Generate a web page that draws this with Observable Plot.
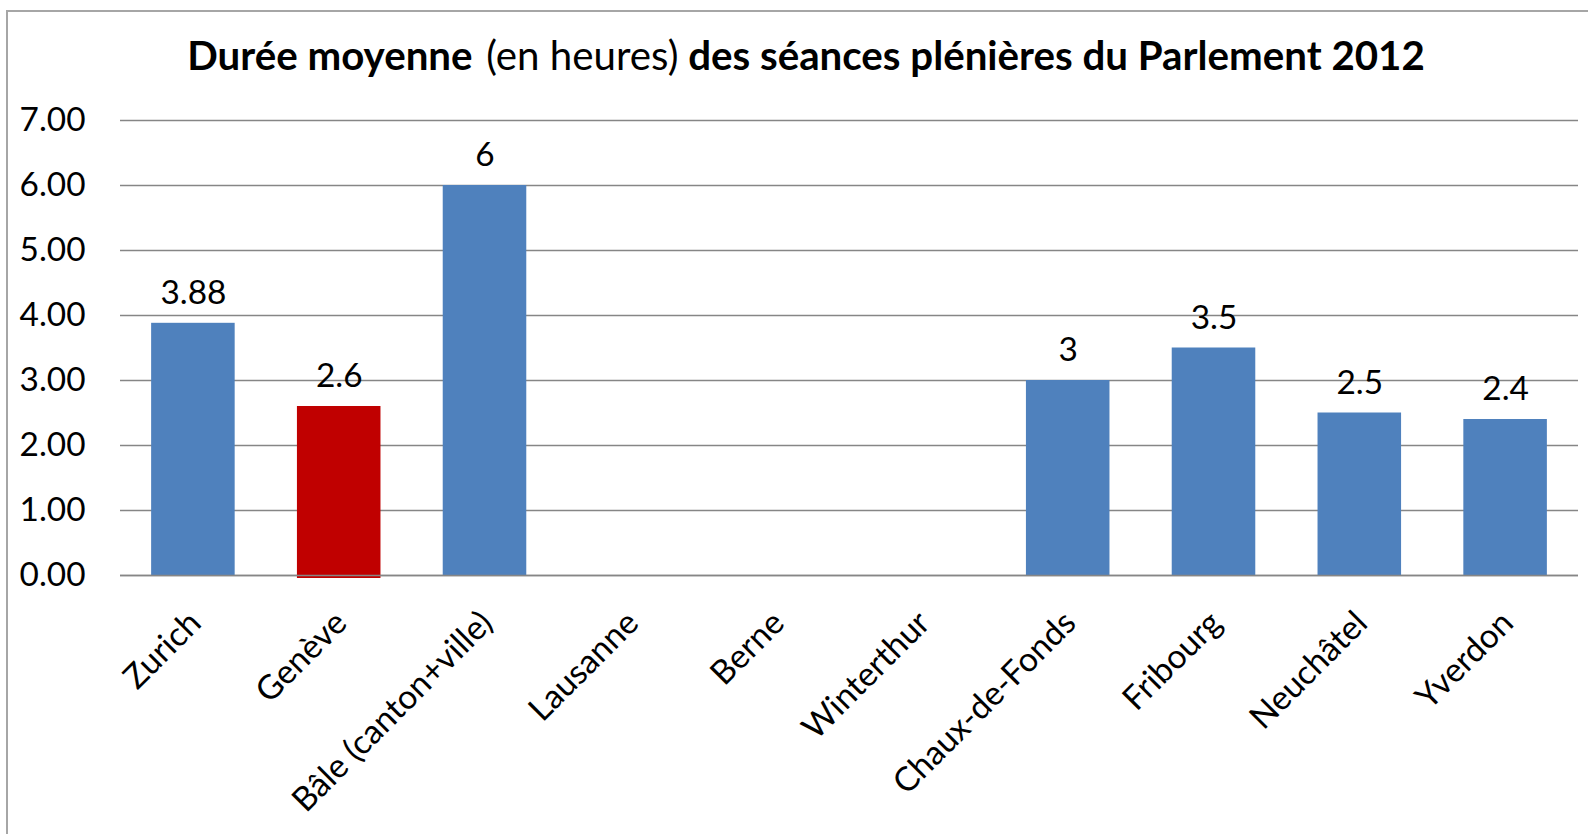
<!DOCTYPE html>
<html><head><meta charset="utf-8">
<script src="https://cdn.jsdelivr.net/npm/d3@7"></script>
<script src="https://cdn.jsdelivr.net/npm/@observablehq/plot@0.6"></script>
<style>
body{margin:0;background:#fff;}
#wrap{position:relative;width:1588px;height:834px;overflow:hidden;background:#fff;}
#frame{position:absolute;left:6px;top:10px;width:1700px;height:900px;border-left:2px solid #a6a6a6;border-top:2px solid #a6a6a6;z-index:2;pointer-events:none;}
#title{position:absolute;left:0;width:1612px;text-align:center;white-space:nowrap;line-height:1;color:#000;font-family:Lato;z-index:1;}
#title b{font-weight:700;}
#title span{font-weight:400;margin-left:4px;}
#chart{position:absolute;left:0;top:100px;}
</style></head>
<body><div id="wrap"><div id="frame"></div><div id="title"></div><div id="chart"></div></div>
<script>
const cities = ["Zurich","Genève","Bâle (canton+ville)","Lausanne","Berne","Winterthur","Chaux-de-Fonds","Fribourg","Neuchâtel","Yverdon"];
const hours = [3.88, 2.6, 6, null, null, null, 3, 3.5, 2.5, 2.4];
const valueLabels = ["3.88","2.6","6","","","","3","3.5","2.5","2.4"];
const yTicks = [0,1,2,3,4,5,6,7];
const highlight = "Genève";
const titleBold1 = "Durée moyenne";
const titleRegular = "(en heures)";
const titleBold2 = "des séances plénières du Parlement 2012";

const ctx = document.createElement("canvas").getContext("2d");
function w(text, weight){ ctx.font = `${weight} 100px Lato`; return ctx.measureText(text).width; }
const tickFS = 100*66/w("0.00",400);
const xFS = 100*242/w("Chaux-de-Fonds",400);
const titleW = w(titleBold1+" ",700)+4/ (1) * 0 + w(titleRegular,400)+w(" "+titleBold2,700);
const titleFS = 100*(1238-4)/titleW;

const t = document.getElementById("title");
t.style.fontSize = titleFS+"px";
t.style.top = (71 - 0.887*titleFS)+"px";
t.innerHTML = `<b>${titleBold1} </b><span>${titleRegular}</span><b> ${titleBold2}</b>`;

const data = cities.map((c,i)=>({city:c, hours:hours[i], label:valueLabels[i]}));
const bars = data.filter(d=>d.hours!=null);

const chart = Plot.plot({
  width:1588, height:734,
  marginLeft:120, marginRight:10, marginTop:20, marginBottom:259,
  style:{fontFamily:"Lato", fontSize:tickFS+"px", color:"#000", background:"transparent", overflow:"visible"},
  x:{domain:cities, paddingInner:0.427, paddingOuter:0.2135, align:0.5, round:false, label:null},
  y:{domain:[0,7], label:null},
  marks:[
    Plot.gridY(yTicks,{stroke:"#868686", strokeOpacity:1, strokeWidth:1.5}),
    Plot.barY(bars.filter(d=>d.city!==highlight),{x:"city", y:"hours", fill:"#4F81BD"}),
    Plot.barY(bars.filter(d=>d.city===highlight),{x:"city", y:"hours", fill:"#C00000", insetBottom:-3}),
    Plot.ruleY([0],{stroke:"#868686", strokeWidth:1.5}),
    Plot.text(bars,{x:"city", y:"hours", text:"label", dy:-30, lineAnchor:"middle", fontSize:tickFS, fill:"#000"}),
    Plot.axisY(yTicks,{tickSize:0, tickPadding:35, tickFormat:d3.format(".2f"), fontSize:tickFS, label:null, fill:"#000"}),
    Plot.axisX({tickSize:0, tickRotate:-45, textAnchor:"end", lineAnchor:"middle", dx:2, dy:42, tickPadding:0, fontSize:xFS, label:null, fill:"#000"})
  ]
});
document.getElementById("chart").appendChild(chart);
</script>
</body></html>
